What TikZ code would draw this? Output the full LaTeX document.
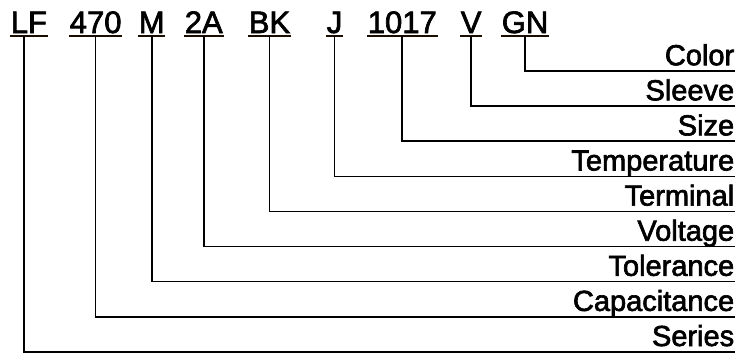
\documentclass[tikz,border=0pt]{standalone}
\usepackage{fontspec}
\setmainfont{Liberation Sans}
\newfontfamily\partfont[FakeBold=2.2]{Liberation Sans}
\begin{document}
\begin{tikzpicture}[x=1pt,y=-1pt,line width=1.6pt,
  code/.style={anchor=base west,inner sep=0pt,text depth=2pt,font=\partfont\fontsize{31}{31}\selectfont},
  lbl/.style={anchor=south east,inner sep=0pt,text depth=5pt,font=\partfont\fontsize{29}{29}\selectfont},
  uline/.style={line width=1.6pt,draw=black!90!orange}]
\path[use as bounding box,fill=white] (0,0) rectangle (739,354);
% part number
\node[code] (lf) at (10,33) {LF};
\node[code] (cap) at (69,33) {470};
\node[code] (tol) at (138,33) {M};
\node[code] (volt) at (184,33) {2A};
\node[code] (term) at (248,33) {BK};
\node[code] (temp) at (326,33) {J};
\node[code] (size) at (367,33) {1017};
\node[code] (slv) at (460,33) {V};
\node[code] (col) at (501,33) {GN};
\foreach \c in {lf,cap,tol,volt,term,temp,size,slv,col}
  \draw[uline] (\c.south west)--(\c.south east);
% meanings
\node[lbl] (color) at (735,71) {Color};
\node[lbl] (sleeve) at (735,106.1) {Sleeve};
\node[lbl] (sz) at (735,141.2) {Size};
\node[lbl] (temperature) at (735,176.3) {Temperature};
\node[lbl] (terminal) at (735,211.4) {Terminal};
\node[lbl] (voltage) at (735,246.5) {Voltage};
\node[lbl] (tolerance) at (735,281.6) {Tolerance};
\node[lbl] (capacitance) at (735,316.7) {Capacitance};
\node[lbl] (series) at (735,351.8) {Series};
\draw (col.south) |- (color.south east);
\draw (slv.south) |- (sleeve.south east);
\draw (size.south) |- (sz.south east);
\draw (temp.south) |- (temperature.south east);
\draw (term.south) |- (terminal.south east);
\draw (volt.south) |- (voltage.south east);
\draw (tol.south) |- (tolerance.south east);
\draw (cap.south) |- (capacitance.south east);
\draw ([xshift=-5pt]lf.south) |- (series.south east);
\end{tikzpicture}
\end{document}
